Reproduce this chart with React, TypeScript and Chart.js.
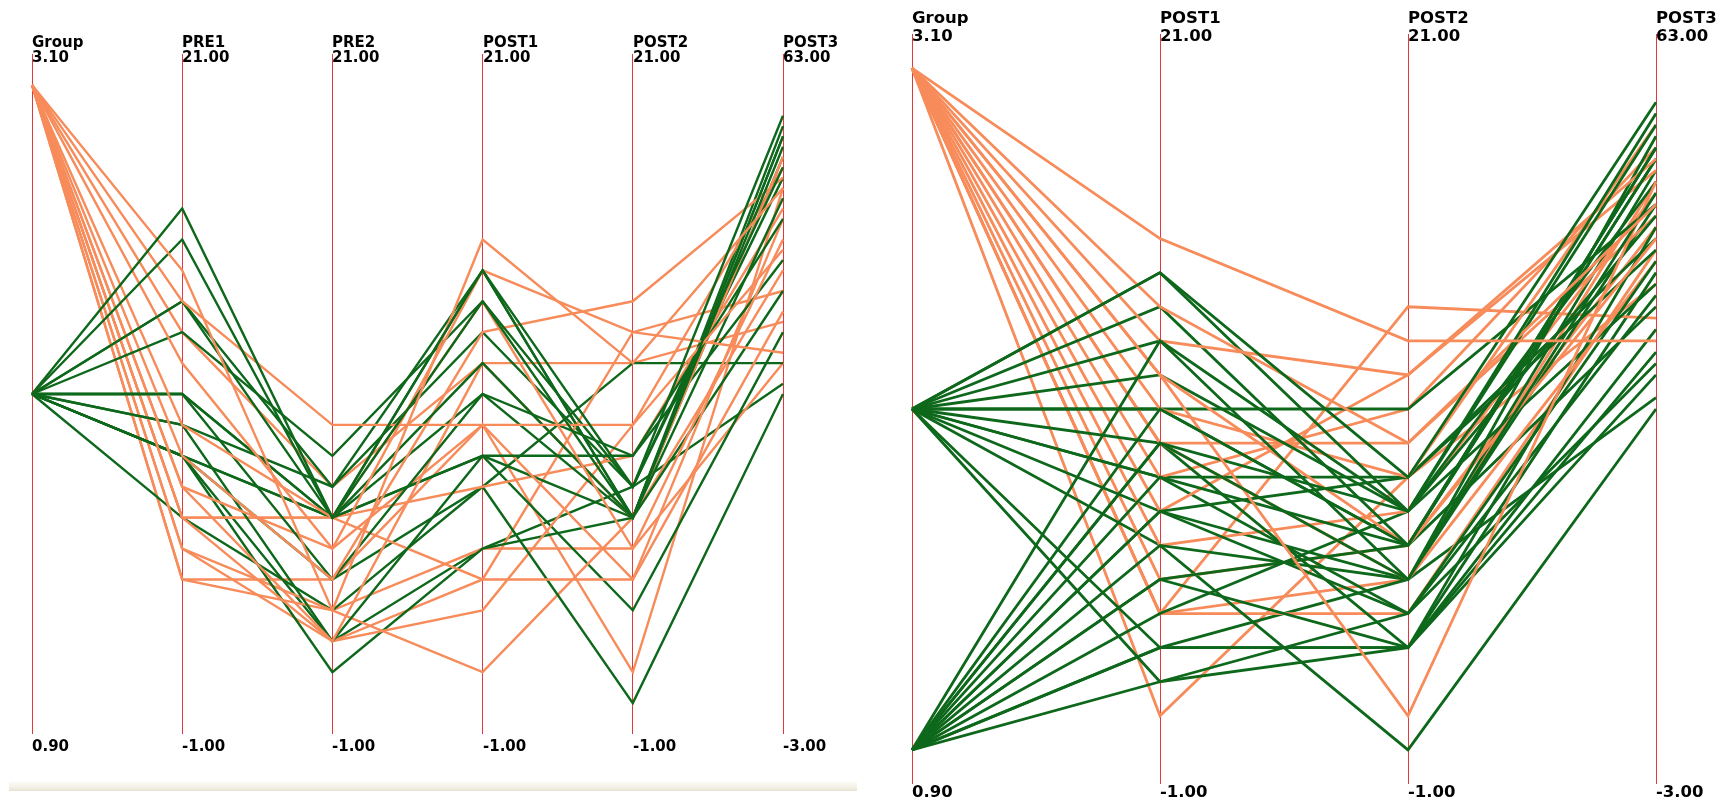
import React, { useEffect, useRef } from "react";
import { Chart, registerables } from "chart.js";

Chart.register(...registerables);

const GREEN = "#0E681B";
const ORANGE = "#F78B5A";
const AXIS_RED = "#E0393C";

// ---------- Left panel data ----------
const leftAxisNames = ["Group", "PRE1", "PRE2", "POST1", "POST2", "POST3"];
const leftAxisMax = [3.1, 21, 21, 21, 21, 63];
const leftAxisMin = [0.9, -1, -1, -1, -1, -3];

const leftGroup = [2, 3, 2, 3, 2, 3, 2, 3, 2, 3, 2, 3, 2, 3, 2, 3, 2, 3, 2, 3, 2, 3, 2, 3, 2, 3, 2, 3, 2, 3, 2];
const leftPre1 = [16, 14, 15, 13, 13, 11, 12, 9, 10, 8, 10, 7, 10, 7, 9, 6, 8, 6, 8, 6, 8, 5, 8, 5, 6, 4, 9, 4, 13, 12, 8];
const leftPre2 = [6, 3, 6, 9, 7, 5, 8, 6, 6, 4, 4, 2, 6, 5, 2, 6, 6, 6, 4, 2, 1, 3, 6, 2, 3, 4, 7, 3, 6, 7, 2];
const leftPost1 = [14, 15, 13, 9, 14, 14, 13, 13, 11, 12, 10, 11, 8, 9, 8, 4, 10, 7, 7, 3, 5, 1, 8, 4, 7, 9, 12, 5, 14, 11, 5];
const leftPost2 = [7, 11, 6, 9, 6, 12, 7, 5, 6, 13, 8, 6, 8, 4, 6, 4, 6, 8, 0, 9, 6, 6, 3, 12, 11, 1, 7, 5, 6, 11, 7];
const leftPost3 = [57, 50, 55, 44, 54, 34, 52, 45, 49, 51, 47, 53, 43, 47, 40, 38, 53, 48, 30, 52, 56, 42, 36, 40, 33, 50, 51, 33, 55, 37, 31];

// ---------- Right panel data ----------
const rightAxisNames = ["Group", "POST1", "POST2", "POST3"];
const rightAxisMax = [3.1, 21, 21, 63];
const rightAxisMin = [0.9, -1, -1, -3];

const rightGroup = [3, 2, 1, 3, 2, 1, 3, 2, 1, 3, 2, 1, 3, 2, 1, 3, 2, 1, 3, 2, 1, 3, 2, 1, 3, 2, 1, 3, 2, 1, 3, 2, 1, 3, 2, 1, 3, 2, 1, 3, 2, 1, 3, 3];
const rightPost1 = [15, 14, 12, 13, 14, 10, 12, 13, 9, 11, 12, 9, 11, 11, 8, 10, 10, 7, 9, 10, 7, 9, 9, 6, 8, 8, 5, 7, 8, 5, 6, 7, 4, 5, 6, 3, 4, 3, 2, 4, 2, 3, 4, 1];
const rightPost2 = [12, 8, 7, 9, 7, 6, 11, 6, 5, 1, 5, 7, 6, 7, 6, 8, 10, 8, 9, 6, 4, 5, 3, 5, 10, 8, 6, 11, 4, 3, 7, 5, 7, 6, 0, 3, 13, 3, 4, 4, 3, 5, 5, 8];
const rightPost3 = [36, 57, 56, 48, 55, 53, 52, 53, 49, 50, 54, 47, 45, 50, 52, 55, 48, 45, 47, 52, 43, 43, 46, 48, 53, 44, 39, 51, 40, 37, 49, 51, 41, 46, 30, 33, 38, 35, 34, 44, 42, 31, 50, 41];

type PanelProps = {
  left: number;
  width: number;
  height: number;
  names: string[];
  mins: number[];
  maxs: number[];
  columns: number[][];
  padding: { left: number; right: number; top: number; bottom: number };
  fontSize: number;
  nameY: number;
  maxY: number;
  minY: number;
  lineWidth: number;
};

function ParallelPanel(props: PanelProps) {
  const ref = useRef<HTMLCanvasElement>(null);
  useEffect(() => {
    const { names, mins, maxs, columns, padding, fontSize, nameY, maxY, minY, lineWidth } = props;
    const n = columns[0].length;
    const datasets: any[] = [];
    for (let i = 0; i < n; i++) {
      const color = columns[0][i] >= 3 ? ORANGE : GREEN;
      datasets.push({
        data: columns.map((col, j) => (col[i] - mins[j]) / (maxs[j] - mins[j])),
        borderColor: color,
        backgroundColor: color,
        borderWidth: lineWidth,
        pointRadius: 0,
        pointHoverRadius: 0,
        fill: false,
        tension: 0,
        clip: false,
      });
    }
    const labelPlugin = {
      id: "axisLabels",
      afterDraw(chart: any) {
        const ctx = chart.ctx;
        const xs = chart.scales.x;
        ctx.save();
        ctx.fillStyle = "#000";
        ctx.font = `bold ${fontSize}px "DejaVu Sans", sans-serif`;
        ctx.textAlign = "left";
        ctx.textBaseline = "alphabetic";
        names.forEach((name, i) => {
          const x = Math.round(xs.getPixelForTick(i));
          ctx.fillText(name, x, nameY);
          ctx.fillText(maxs[i].toFixed(2), x, maxY);
          ctx.fillText(mins[i].toFixed(2), x, minY);
        });
        ctx.restore();
      },
    };
    const chart = new Chart(ref.current as HTMLCanvasElement, {
      type: "line",
      data: { labels: names, datasets },
      options: {
        responsive: false,
        maintainAspectRatio: false,
        animation: false,
        events: [],
        layout: { padding },
        plugins: { legend: { display: false }, tooltip: { enabled: false } },
        scales: {
          x: {
            type: "category",
            offset: false,
            grid: { color: AXIS_RED, lineWidth: 1, drawTicks: false },
            border: { display: false },
            ticks: { display: false },
          },
          y: { type: "linear", min: 0, max: 1, display: false },
        },
      },
      plugins: [labelPlugin],
    } as any);
    return () => chart.destroy();
  }, []);
  return (
    <canvas
      ref={ref}
      width={props.width}
      height={props.height}
      style={{ position: "absolute", left: props.left, top: 0, width: props.width, height: props.height }}
    />
  );
}

export default function App() {
  return (
    <div
      style={{
        position: "fixed",
        left: 0,
        top: 0,
        width: 1735,
        height: 801,
        background: "#ffffff",
        overflow: "hidden",
      }}
    >
      <ParallelPanel
        left={0}
        width={870}
        height={801}
        names={leftAxisNames}
        mins={leftAxisMin}
        maxs={leftAxisMax}
        columns={[leftGroup, leftPre1, leftPre2, leftPost1, leftPost2, leftPost3]}
        padding={{ left: 32, right: 87, top: 54, bottom: 67 }}
        fontSize={15}
        nameY={47}
        maxY={62}
        minY={751}
        lineWidth={2.4}
      />
      <ParallelPanel
        left={870}
        width={865}
        height={801}
        names={rightAxisNames}
        mins={rightAxisMin}
        maxs={rightAxisMax}
        columns={[rightGroup, rightPost1, rightPost2, rightPost3]}
        padding={{ left: 42, right: 79, top: 34, bottom: 17 }}
        fontSize={16.5}
        nameY={23}
        maxY={41}
        minY={797}
        lineWidth={2.8}
      />
      <div
        style={{
          position: "absolute",
          left: 9,
          top: 782,
          width: 848,
          height: 9,
          background: "linear-gradient(#fbfaf4, #f3f1e6 60%, #e6e3d2)",
        }}
      />
    </div>
  );
}
